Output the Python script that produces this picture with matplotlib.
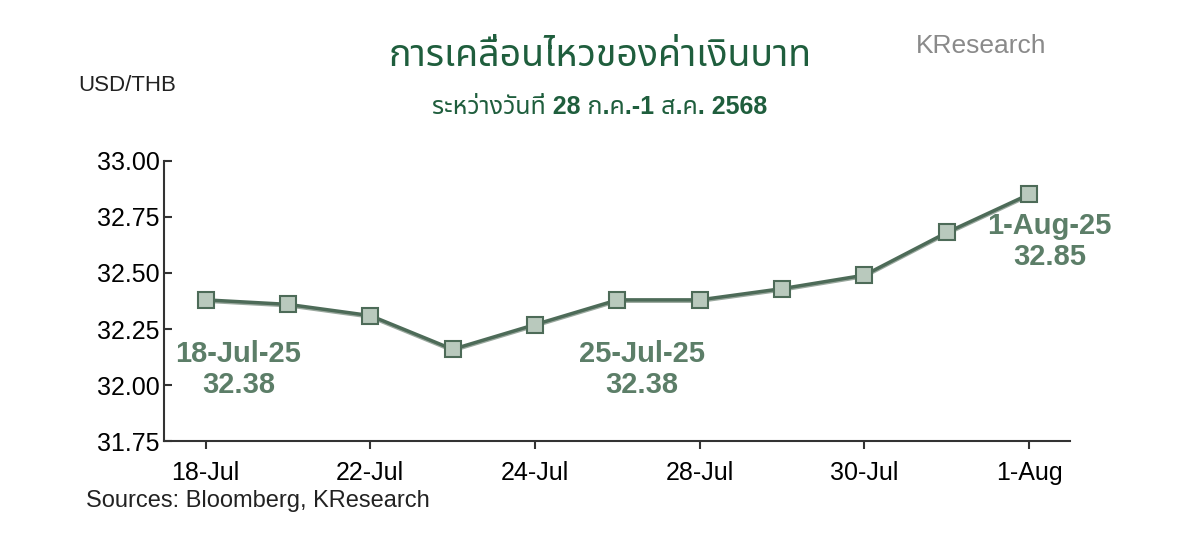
import matplotlib
matplotlib.use("Agg")
import matplotlib.pyplot as plt
from matplotlib import font_manager

dates = ["18-Jul", "21-Jul", "22-Jul", "23-Jul", "24-Jul", "25-Jul",
         "28-Jul", "29-Jul", "30-Jul", "31-Jul", "1-Aug"]
rates = [32.38, 32.36, 32.31, 32.16, 32.27, 32.38, 32.38, 32.43, 32.49, 32.68, 32.85]
yticks = [31.75, 32.00, 32.25, 32.50, 32.75, 33.00]

names = {f.name for f in font_manager.fontManager.ttflist}
thai = [n for n in ["Noto Sans Thai", "Noto Sans Thai UI", "Loma", "Garuda", "Tlwg Typo"] if n in names]
plt.rcParams['font.family'] = ['Liberation Sans'] + thai + ['DejaVu Sans']

fig = plt.figure(figsize=(12, 5.37), dpi=100)
ax = fig.add_axes([0.137, 0.178, 0.755, 0.523])
x = list(range(len(rates)))
ax.plot(x, [r - 0.006 for r in rates], color="#9aa89e", lw=2.5, zorder=2)
ax.plot(x, rates, color="#4d6b58", lw=2.5, marker="s", ms=11,
        mfc="#b9c9bd", mec="#4d6b58", mew=1.5, zorder=3)

ax.set_xlim(-0.5, 10.5)
ax.set_ylim(31.75, 33.0)
ax.set_yticks(yticks)
ax.set_yticklabels([f"{v:.2f}" for v in yticks], fontsize=18)
ax.set_xticks(x[::2])
ax.set_xticklabels(dates[::2], fontsize=18)
ax.tick_params(axis="both", direction="in", length=6, width=1.5, color="#333333")
ax.tick_params(axis="x", direction="out", pad=8)
for s in ["top", "right"]:
    ax.spines[s].set_visible(False)
for s in ["left", "bottom"]:
    ax.spines[s].set_linewidth(1.5)
    ax.spines[s].set_color("#333333")

green = "#5c7e68"
kw = dict(ha="center", va="center", fontsize=21, fontweight="bold", color=green, linespacing=1.1)
ax.text(0.4, 32.07, "18-Jul-25\n32.38", **kw)
ax.text(5.3, 32.07, "25-Jul-25\n32.38", **kw)
ax.text(10.25, 32.64, "1-Aug-25\n32.85", **kw)

fig.text(0.5, 0.895, "การเคลื่อนไหวของค่าเงินบาท", ha="center", va="center",
         fontsize=27, fontweight="bold", color="#1f5e3d")
fig.text(0.5, 0.8, "ระหว่างวันที่ 28 ก.ค.-1 ส.ค. 2568", ha="center", va="center",
         fontsize=18, fontweight="bold", color="#1f5e3d")
fig.text(0.065, 0.83, "USD/THB", fontsize=16, color="#222222")
fig.text(0.072, 0.055, "Sources: Bloomberg, KResearch", fontsize=17, color="#222222")
fig.text(0.763, 0.915, "KResearch", fontsize=19, color="#8a8a8a", va="center")

fig.savefig("out.png", dpi=100)
